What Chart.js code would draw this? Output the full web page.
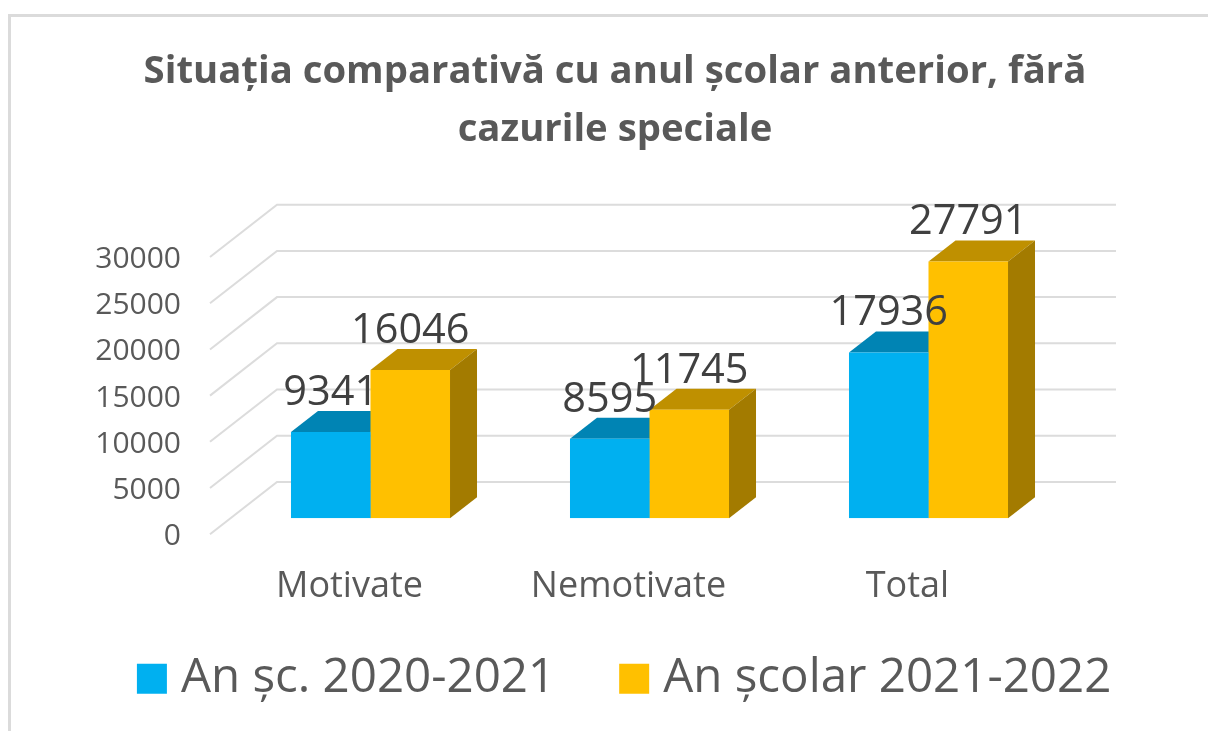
<!DOCTYPE html>
<html><head><meta charset="utf-8">
<style>html,body{margin:0;padding:0;background:#fff;overflow:hidden}canvas{display:block}</style>
<script src="https://cdn.jsdelivr.net/npm/chart.js@4"></script></head>
<body><canvas id="c" width="1208" height="731"></canvas>
<script>
const categories = ["Motivate", "Nemotivate", "Total"];
const seriesA = [9341, 8595, 17936];
const seriesB = [16046, 11745, 27791];
const nameA = "An șc. 2020-2021";
const nameB = "An școlar 2021-2022";
const titleLines = ["Situația comparativă cu anul școlar anterior, fără", "cazurile speciale"];
const FONT = '"Open Sans"';
const shades = {A:{front:"#00B0F0",top:"#0084B4",side:"#006F98"}, B:{front:"#FFC000",top:"#BF9000",side:"#A37B00"}};

const box3d = {
  id:"box3d",
  beforeDraw(chart){
    const c=chart.ctx; c.save();
    c.fillStyle="#fff"; c.fillRect(0,0,chart.width,chart.height);
    c.strokeStyle="#DBDBDB"; c.lineWidth=3; c.strokeRect(9.5,15.5,1400,900);
    c.restore();
  },
  afterLayout(chart){
    chart.legend.left+=14; chart.legend.right+=14;
    chart.legend.top-=20; chart.legend.bottom-=20;
  },
  beforeDatasetsDraw(chart){
    const c=chart.ctx, y=chart.scales.y, bottom=chart.chartArea.bottom;
    c.save();
    c.strokeStyle="#DCDCDC"; c.lineWidth=2;
    y.ticks.forEach(t=>{
      const py=y.getPixelForValue(t.value);
      c.beginPath();
      c.moveTo(210,py+16); c.lineTo(277,py-36.3); c.lineTo(1116,py-36.3);
      c.stroke();
    });
    const dx=27, dy=21;
    [shades.A,shades.B].forEach((s,di)=>{
      chart.getDatasetMeta(di).data.forEach(b=>{
        const l=b.x-b.width/2, r=b.x+b.width/2, t=b.y;
        c.fillStyle=s.top;
        c.beginPath(); c.moveTo(l,t); c.lineTo(r,t); c.lineTo(r+dx,t-dy); c.lineTo(l+dx,t-dy); c.closePath(); c.fill();
        c.fillStyle=s.side;
        c.beginPath(); c.moveTo(r,t); c.lineTo(r+dx,t-dy); c.lineTo(r+dx,bottom-dy); c.lineTo(r,bottom); c.closePath(); c.fill();
      });
    });
    c.restore();
  },
  afterDatasetsDraw(chart){
    const c=chart.ctx;
    c.save();
    c.font='41.5px '+FONT; c.fillStyle="#404040"; c.textAlign="center"; c.textBaseline="middle";
    chart.data.datasets.forEach((d,di)=>{
      chart.getDatasetMeta(di).data.forEach((b,i)=>{
        c.fillText(String(d.data[i]), b.x, b.y-39);
      });
    });
    c.restore();
  }
};

new Chart(document.getElementById("c"),{
  type:"bar",
  data:{labels:categories,datasets:[
    {label:nameA,data:seriesA,backgroundColor:shades.A.front,borderWidth:0},
    {label:nameB,data:seriesB,backgroundColor:shades.B.front,borderWidth:0}
  ]},
  options:{
    responsive:false,animation:false,
    layout:{padding:{left:22,right:0,top:0,bottom:-1.5}},
    datasets:{bar:{categoryPercentage:0.57,barPercentage:1}},
    plugins:{
      tooltip:{enabled:false},
      title:{display:true,text:titleLines,color:"#595959",
        font:{family:FONT,size:38.3,weight:"bold",lineHeight:58/38.3},
        padding:{top:43,bottom:82}},
      legend:{position:"bottom",
        labels:{color:"#595959",font:{family:FONT,size:47.5},boxWidth:10.5,boxHeight:10.5,padding:73.75,
          generateLabels(chart){
            return Chart.defaults.plugins.legend.labels.generateLabels(chart).map(it=>{
              it.strokeStyle=it.fillStyle; it.lineWidth=19.5; return it;
            });
          }}}
    },
    scales:{
      x:{grid:{display:false},border:{display:false},
        ticks:{color:"#595959",font:{family:FONT,size:36},labelOffset:-21,padding:39,maxRotation:0},
        afterFit(s){s.height=83;}},
      y:{min:0,max:30000,position:"left",grid:{display:false,drawTicks:false},border:{display:false},
        ticks:{stepSize:5000,color:"#595959",font:{family:FONT,size:30},labelOffset:18.5,padding:50,
          callback:v=>String(v)},
        afterFit(s){s.width=209;}},
      yr:{position:"right",min:0,max:1,grid:{display:false,drawTicks:false},border:{display:false},
        ticks:{display:false},afterFit(s){s.width=140;}}
    }
  },
  plugins:[box3d]
});
</script></body></html>
